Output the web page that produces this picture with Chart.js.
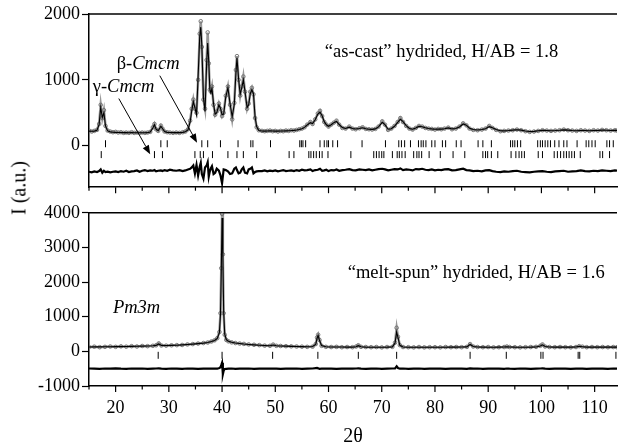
<!DOCTYPE html>
<html>
<head>
<meta charset="utf-8">
<script src="https://cdn.jsdelivr.net/npm/chart.js@4.4.1/dist/chart.umd.min.js"></script>
<style>
  html, body { margin: 0; padding: 0; background: #fff; }
  #wrap { position: relative; width: 622px; height: 446px; overflow: hidden; }
  #topChart { position: absolute; left: 0; top: 0; }
  #bottomChart { position: absolute; left: 0; top: 200px; }
  #yTitle {
    position: absolute; left: 19px; top: 188px;
    transform: translate(-50%, -50%) rotate(-90deg);
    font: 20px "Liberation Serif", "Times New Roman", serif;
    white-space: nowrap; color: #000;
  }
</style>
</head>
<body>
<div id="wrap">
  <canvas id="topChart" width="622" height="200"></canvas>
  <canvas id="bottomChart" width="622" height="246"></canvas>
  <div id="yTitle">I (a.u.)</div>
</div>
<script>
// ---- top panel: "as-cast" hydrided (2 Cmcm phases) ----
const twoThetaTop = [
  15, 15.5, 16, 16.5, 16.9, 17.2, 17.5, 17.8, 18.1, 18.5, 19, 19.5, 20, 20.5, 21, 21.5, 22, 22.5, 23, 23.5,
  24, 24.5, 25, 25.5, 26, 26.5, 27, 27.3, 27.6, 28, 28.5, 28.8, 29.2, 29.7, 30.2, 30.8, 31.4, 32, 32.6, 33.1,
  33.6, 34, 34.3, 34.6, 34.9, 35.2, 35.5, 35.8, 36, 36.2, 36.5, 36.8, 37.1, 37.3, 37.5, 37.7, 37.9, 38.1, 38.4, 38.7,
  39, 39.4, 39.7, 40, 40.3, 40.7, 41.1, 41.5, 41.9, 42.3, 42.6, 42.8, 43.1, 43.4, 43.7, 44, 44.3, 44.7, 45, 45.3,
  45.6, 45.9, 46.2, 46.5, 46.9,
  47.5, 48, 48.5, 49, 49.5, 50, 50.5, 51, 51.5, 52, 52.5, 53, 53.5, 54, 54.5, 55, 55.5, 56, 56.6, 57,
  57.5, 58, 58.4, 58.8, 59.2, 59.6, 60, 60.5, 61, 61.5, 62, 62.6, 63.2, 63.9, 64.5, 65.1, 65.8, 66.4, 67, 67.6,
  68.2, 68.8, 69.4,
  70.1, 70.6, 71.2, 71.8, 72.4, 73, 73.5, 74, 74.6, 75.2, 75.8, 76.4, 77, 77.6, 78.2, 78.8, 79.4, 80, 80.6, 81.2,
  81.8, 82.5, 83.2, 83.9, 84.6, 85.3, 85.9, 86.5, 87.2, 88, 88.8, 89.5, 90.2, 90.8, 91.5, 92.3, 93, 93.8, 94.6, 95.4,
  96.2, 97, 97.8, 98.6, 99.4, 100.2, 101, 101.8, 102.6, 103.4, 104.2, 105, 105.8, 106.6, 107.4, 108.2, 109, 109.8, 110.6, 111.4,
  112.2, 113, 113.8, 114.2
];
const obsTop = [
  230, 215, 225, 240, 330, 620, 420, 540, 300, 230, 215, 205, 210, 200, 205, 195, 200, 195, 205, 195,
  200, 195, 200, 195, 200, 210, 280, 330, 250, 225, 305, 260, 215, 205, 200, 195, 200, 195, 205, 215,
  250, 380, 560, 700, 560, 500, 1000, 1700, 1890, 1500, 700, 560, 1300, 1720, 1250, 850, 820, 900, 620, 470,
  520, 640, 560, 450, 500, 760, 900, 620, 400, 650, 1150, 1360, 1000, 760, 900, 1050, 820, 560, 640, 820,
  880, 780, 420, 280, 235,
  225, 220, 225, 230, 220, 225, 215, 225, 220, 230, 225, 235, 230, 240, 250, 260, 280, 320, 360, 330,
  400, 490, 530, 450, 360, 320, 290, 320, 350, 380, 320, 270, 260, 290, 260, 250, 265, 280, 255, 250,
  245, 255, 290,
  370, 320, 240, 260, 300, 360, 420, 360, 300, 260, 245, 270, 300, 290, 270, 260, 255, 245, 255, 250,
  260, 275, 250, 260, 290, 340, 310, 260, 240, 235, 245, 260, 300, 270, 240, 220, 225, 230, 235, 245,
  235, 220, 210, 215, 225, 235, 230, 225, 230, 235, 245, 235, 230, 225, 235, 230, 225, 235, 230, 240,
  235, 230, 235, 230
];
const calcTop = [
  222, 220, 222, 235, 320, 580, 430, 500, 300, 225, 210, 205, 202, 200, 200, 198, 198, 197, 198, 197,
  197, 197, 197, 197, 198, 208, 270, 320, 250, 228, 295, 262, 215, 203, 200, 198, 198, 198, 202, 212,
  240, 360, 530, 670, 580, 470, 1050, 1650, 1800, 1520, 730, 520, 1250, 1560, 1280, 860, 800, 870, 640, 480,
  500, 620, 570, 470, 480, 740, 880, 640, 440, 630, 1100, 1330, 1020, 780, 880, 1000, 830, 580, 620, 790,
  850, 790, 440, 290, 232,
  224, 222, 223, 225, 224, 222, 222, 223, 224, 226, 228, 230, 233, 238, 247, 258, 278, 315, 350, 335,
  395, 480, 510, 455, 365, 318, 295, 318, 350, 370, 322, 275, 262, 282, 262, 254, 262, 272, 258, 250,
  248, 256, 285,
  355, 320, 250, 258, 295, 355, 400, 365, 305, 262, 250, 268, 295, 288, 272, 262, 255, 250, 252, 252,
  258, 270, 255, 262, 285, 330, 312, 265, 245, 238, 245, 258, 290, 272, 245, 228, 226, 230, 236, 242,
  236, 224, 215, 218, 226, 233, 231, 228, 230, 234, 240, 236, 231, 228, 232, 231, 228, 232, 231, 236,
  234, 232, 233, 231
];
const diffTop = [
  -395, -405, -390, -400, -385, -360, -410, -380, -400, -395, -405, -395, -390, -400, -385, -395, -380, -400, -390, -385,
  -375, -395, -380, -370, -385, -375, -380, -370, -390, -380, -375, -385, -370, -380, -365, -375, -380, -370, -385, -375,
  -360, -350, -330, -300, -420, -290, -450, -320, -260, -430, -500, -330, -300, -250, -470, -390, -340, -310, -430, -410,
  -350, -380, -450, -570, -360, -370, -390, -430, -420, -350, -330, -370, -420, -410, -360, -330, -410, -420, -360, -350,
  -330, -420, -400, -390, -385,
  -385, -375, -390, -380, -385, -375, -390, -380, -370, -385, -380, -375, -385, -370, -380, -365, -375, -370, -360, -385,
  -370, -365, -350, -380, -375, -365, -385, -370, -375, -360, -380, -370, -365, -355, -370, -375, -360, -365, -370, -360,
  -375, -365, -355,
  -350, -360, -375, -365, -355, -360, -345, -370, -360, -365, -375, -355, -360, -350, -365, -370, -360, -375, -365, -370,
  -360, -355, -375, -370, -360, -350, -370, -375, -385, -380, -390, -375, -370, -385, -395, -400, -390, -395, -385, -380,
  -395, -400, -405, -395, -390, -385, -395, -400, -390, -385, -380, -395, -390, -385, -375, -385, -390, -380, -385, -375,
  -380, -385, -375, -380
];
// Bragg reflection positions (2θ)
const betaCmcm = [
  18.1, 28.5, 29.7, 36.2, 37.3, 39.7, 43.0, 45.4, 45.8, 49.1, 54.6, 54.9, 55.2, 55.7, 58.4, 59.2, 59.7, 60.0, 60.8, 61.7,
  66.3, 70.7, 73.2, 73.7, 74.3, 75.4, 76.9, 77.4, 77.8, 78.3, 79.4, 80.0, 81.4, 82.0, 84.0, 84.9, 88.1, 89.0, 90.6,
  94.2, 94.6, 95.0, 95.5, 96.1, 99.3, 99.8, 100.2, 100.7, 101.2, 101.7, 102.5, 103.3, 104.2, 104.8, 106.7,
  108.4, 108.9, 109.5, 110.1, 112.3, 112.8, 113.5
];
const gammaCmcm = [
  17.3, 27.3, 28.8, 34.9, 35.9, 36.5, 38.2, 41.1, 42.8, 44.0, 46.5, 52.6, 53.5, 56.3, 56.7, 57.2, 57.7, 58.3, 58.8, 59.9,
  64.2, 68.5, 69.0, 69.5, 70.0, 70.4, 72.0, 72.9, 73.3, 73.8, 74.4, 76.0, 76.6, 77.0, 77.5, 78.9, 81.0, 83.4, 85.6,
  89.0, 89.5, 89.9, 90.6, 91.8, 94.3, 95.2, 95.8, 96.3, 96.8, 99.4, 100.2, 102.4, 103.0, 103.6, 104.2, 104.7, 105.2,
  105.7, 106.2, 107.3, 111.0, 111.5, 112.8
];

// ---- bottom panel: "melt-spun" hydrided (Pm3m) ----
const twoThetaBottom = [
  15, 16, 17, 18, 19, 20, 21, 22, 23, 24,
  25, 26, 27, 27.6, 28.1, 28.6, 29.5, 30.5, 31.5, 32.5,
  33.5, 34.5, 35.5, 36.5, 37.3, 38, 38.6, 39.1, 39.5, 39.7,
  39.85, 40, 40.15, 40.3, 40.5, 40.8, 41.2, 41.8, 42.5, 43.3,
  44.1, 45, 46, 47, 48, 49, 49.6, 50.2, 51, 52,
  53, 54, 55, 56, 57, 57.6, 57.85, 58.05, 58.3, 58.7,
  59.5, 60.5, 61.5, 62.5, 63.5, 64.5, 65.2, 65.6, 66.1, 67,
  68, 69, 70, 71, 72, 72.5, 72.8, 73.05, 73.4, 74,
  75, 76, 77, 78, 79, 80, 81, 82, 83, 84,
  85, 86, 86.6, 87.2, 88, 89, 90, 91, 92, 93,
  93.5, 94, 95, 96, 97, 98, 99, 99.8, 100.2, 100.7,
  101.5, 102.5, 103.5, 104.5, 105.5, 106.5, 107.1, 107.7, 108.5, 109.5,
  110.5, 111.5, 112.5, 113.5, 114.2
];
const obsBottom = [
  125, 135, 120, 130, 140, 130, 145, 135, 150, 140,
  155, 150, 160, 175, 230, 170, 165, 175, 180, 185,
  200, 210, 225, 240, 255, 285, 320, 380, 560, 1100,
  2400, 3970, 2800, 1100, 480, 330, 290, 260, 240, 225,
  215, 200, 190, 180, 165, 160, 195, 160, 155, 150,
  145, 140, 135, 130, 135, 210, 400, 480, 330, 160,
  130, 125, 130, 120, 125, 120, 140, 175, 130, 125,
  120, 125, 115, 125, 130, 250, 680, 420, 180, 125,
  120, 115, 125, 115, 120, 120, 115, 125, 120, 125,
  120, 130, 210, 140, 125, 120, 125, 115, 120, 125,
  140, 125, 120, 115, 120, 125, 130, 160, 200, 140,
  125, 120, 125, 120, 115, 125, 150, 135, 120, 125,
  120, 125, 120, 125, 120
];
const calcBottom = [
  128, 130, 130, 132, 134, 136, 138, 140, 143, 146,
  150, 154, 160, 172, 215, 172, 168, 172, 178, 186,
  196, 208, 222, 238, 256, 282, 315, 375, 540, 1050,
  2300, 3850, 2750, 1150, 500, 340, 290, 262, 242, 226,
  212, 200, 188, 178, 170, 164, 185, 160, 155, 150,
  145, 140, 136, 133, 138, 200, 380, 460, 320, 165,
  132, 128, 126, 124, 123, 122, 135, 165, 132, 122,
  120, 120, 120, 121, 128, 240, 560, 400, 175, 125,
  120, 119, 119, 119, 120, 120, 120, 120, 121, 122,
  124, 130, 200, 140, 124, 121, 120, 120, 121, 124,
  135, 126, 121, 120, 120, 122, 128, 155, 190, 140,
  124, 121, 121, 121, 122, 125, 145, 135, 122, 121,
  121, 121, 121, 122, 122
];
const diffBottom = [
  -495, -500, -505, -495, -500, -490, -500, -505, -495, -500,
  -495, -505, -500, -495, -490, -500, -505, -495, -500, -505,
  -495, -500, -505, -500, -495, -500, -495, -500, -480, -460,
  -400, -330, -660, -560, -510, -505, -500, -495, -505, -500,
  -500, -495, -505, -500, -495, -500, -495, -500, -505, -500,
  -500, -495, -505, -500, -495, -485, -480, -490, -505, -500,
  -495, -500, -505, -500, -495, -500, -495, -490, -500, -505,
  -500, -495, -505, -500, -495, -490, -430, -480, -500, -495,
  -505, -500, -495, -505, -500, -495, -500, -505, -500, -495,
  -500, -505, -490, -500, -495, -505, -500, -495, -500, -505,
  -495, -500, -505, -495, -500, -505, -500, -495, -490, -500,
  -505, -500, -495, -500, -505, -500, -495, -500, -505, -500,
  -495, -500, -505, -495, -500
];
const pm3m = [28.0, 40.0, 49.5, 58.0, 65.6, 72.8, 86.6, 93.4, 99.9, 100.3, 106.9, 107.2, 114.0];

const xTicks = [20, 30, 40, 50, 60, 70, 80, 90, 100, 110];
const yTicksTop = [0, 1000, 2000];
const yTicksBottom = [-1000, 0, 1000, 2000, 3000, 4000];

const serif = '"Liberation Serif", "Times New Roman", Times, serif';

function pts(xs, ys) {
  return xs.map((x, i) => ({ x: x, y: ys[i] }));
}
function row(xs, level) {
  return xs.map(x => ({ x: x, y: level }));
}

function obsSet(data) {
  return {
    data: data, showLine: true, order: 2,
    borderColor: 'rgba(125,125,125,0.8)', borderWidth: 2.5,
    pointRadius: 1.8, pointBorderWidth: 0.9,
    pointBorderColor: '#6e6e6e', pointBackgroundColor: 'rgba(255,255,255,0)'
  };
}
function calcSet(data) {
  return { data: data, showLine: true, order: 0, borderColor: '#000', borderWidth: 1.1, pointRadius: 0 };
}
function diffSet(data) {
  return { data: data, showLine: true, order: 1, borderColor: '#000', borderWidth: 2.2, pointRadius: 0 };
}
function braggSet(data) {
  return {
    data: data, showLine: false, order: 3,
    pointStyle: 'line', rotation: 90, pointRadius: 3.5,
    borderColor: '#000', pointBorderColor: '#000', pointBorderWidth: 1
  };
}

// frame line on top + major/minor ticks under the x axis
const frame = {
  id: 'frame',
  afterDraw(chart) {
    const { ctx, chartArea, scales } = chart;
    ctx.save();
    ctx.strokeStyle = '#000';
    ctx.lineWidth = 1.5;
    ctx.beginPath();
    ctx.moveTo(chartArea.left, chartArea.top);
    ctx.lineTo(chartArea.right, chartArea.top);
    ctx.stroke();
    ctx.lineWidth = 1.2;
    for (let v = 15; v <= 114; v += 5) {
      const px = scales.x.getPixelForValue(v);
      const len = v % 10 === 0 ? 6 : 3.5;
      ctx.beginPath();
      ctx.moveTo(px, chartArea.bottom);
      ctx.lineTo(px, chartArea.bottom + len);
      ctx.stroke();
    }
    ctx.restore();
  }
};

function writeParts(ctx, parts, x, y) {
  let cx = x;
  parts.forEach(p => {
    ctx.font = (p[1] ? 'italic ' : '') + '18.5px ' + serif;
    ctx.fillText(p[0], cx, y);
    cx += ctx.measureText(p[0]).width;
  });
}

function arrow(ctx, x1, y1, x2, y2) {
  const a = Math.atan2(y2 - y1, x2 - x1);
  const head = 9, half = 3.5;
  const bx = x2 - head * Math.cos(a), by = y2 - head * Math.sin(a);
  ctx.lineWidth = 1;
  ctx.beginPath();
  ctx.moveTo(x1, y1);
  ctx.lineTo(bx, by);
  ctx.stroke();
  ctx.beginPath();
  ctx.moveTo(x2, y2);
  ctx.lineTo(bx + half * Math.sin(a), by - half * Math.cos(a));
  ctx.lineTo(bx - half * Math.sin(a), by + half * Math.cos(a));
  ctx.closePath();
  ctx.fill();
}

const topNotes = {
  id: 'topNotes',
  afterDatasetsDraw(chart) {
    const { ctx } = chart;
    const x = chart.scales.x, y = chart.scales.y;
    ctx.save();
    ctx.fillStyle = '#000';
    ctx.strokeStyle = '#000';
    ctx.textBaseline = 'middle';
    ctx.textAlign = 'left';
    writeParts(ctx, [['“as-cast” hydrided, H/AB = 1.8', false]], x.getPixelForValue(59.3), y.getPixelForValue(1418));
    writeParts(ctx, [['β-', false], ['Cmcm', true]], x.getPixelForValue(20.2), y.getPixelForValue(1239));
    writeParts(ctx, [['γ-', false], ['Cmcm', true]], x.getPixelForValue(15.7), y.getPixelForValue(896));
    arrow(ctx, x.getPixelForValue(28.3), y.getPixelForValue(1064), x.getPixelForValue(35.3), y.getPixelForValue(45));
    arrow(ctx, x.getPixelForValue(20.6), y.getPixelForValue(716), x.getPixelForValue(26.5), y.getPixelForValue(-130));
    ctx.restore();
  }
};

const bottomNotes = {
  id: 'bottomNotes',
  afterDatasetsDraw(chart) {
    const { ctx } = chart;
    const x = chart.scales.x, y = chart.scales.y;
    ctx.save();
    ctx.fillStyle = '#000';
    ctx.textBaseline = 'middle';
    ctx.textAlign = 'left';
    writeParts(ctx, [['“melt-spun” hydrided, H/AB = 1.6', false]], x.getPixelForValue(63.6), y.getPixelForValue(2257));
    writeParts(ctx, [['Pm3m', true]], x.getPixelForValue(19.5), y.getPixelForValue(1257));
    ctx.restore();
  }
};

const tickFont = { family: serif, size: 18 };

function yScale(min, max, ticks) {
  return {
    type: 'linear', min: min, max: max,
    afterBuildTicks: s => { s.ticks = ticks.map(v => ({ value: v })); },
    ticks: { font: tickFont, color: '#000', padding: 2, callback: v => String(v) },
    grid: { drawOnChartArea: false, drawTicks: true, tickLength: 7, color: '#000', tickWidth: 1.2 },
    border: { display: true, color: '#000', width: 1.5 },
    afterFit: s => { s.width = 89; }
  };
}

new Chart(document.getElementById('topChart'), {
  type: 'scatter',
  data: {
    datasets: [
      calcSet(pts(twoThetaTop, calcTop)),
      obsSet(pts(twoThetaTop, obsTop)),
      diffSet(pts(twoThetaTop, diffTop)),
      braggSet(row(betaCmcm, 30)),
      braggSet(row(gammaCmcm, -135))
    ]
  },
  options: {
    responsive: false,
    animation: false,
    layout: { padding: { left: 0, right: 0, top: 14, bottom: 0 } },
    plugins: { legend: { display: false }, tooltip: { enabled: false } },
    scales: {
      x: {
        type: 'linear', min: 15, max: 114.2,
        ticks: { display: false },
        grid: { display: false, drawTicks: false },
        border: { display: true, color: '#000', width: 1.5 },
        afterFit: s => { s.height = 10; }
      },
      y: yScale(-630, 2000, yTicksTop)
    }
  },
  plugins: [frame, topNotes]
});

new Chart(document.getElementById('bottomChart'), {
  type: 'scatter',
  data: {
    datasets: [
      calcSet(pts(twoThetaBottom, calcBottom)),
      obsSet(pts(twoThetaBottom, obsBottom)),
      diffSet(pts(twoThetaBottom, diffBottom)),
      braggSet(row(pm3m, -114))
    ]
  },
  options: {
    responsive: false,
    animation: false,
    layout: { padding: { left: 0, right: 0, top: 11, bottom: 0 } },
    plugins: { legend: { display: false }, tooltip: { enabled: false } },
    scales: {
      x: {
        type: 'linear', min: 15, max: 114.2,
        afterBuildTicks: s => { s.ticks = xTicks.map(v => ({ value: v })); },
        ticks: { font: tickFont, color: '#000', padding: 11, maxRotation: 0, autoSkip: false, callback: v => String(v) },
        grid: { display: false, drawTicks: false },
        border: { display: true, color: '#000', width: 1.5 },
        title: { display: true, text: '2θ', color: '#000', font: { family: serif, size: 20 }, padding: { top: 0, bottom: -3 } },
        afterFit: s => { s.height = 60; }
      },
      y: yScale(-1000, 4000, yTicksBottom)
    }
  },
  plugins: [frame, bottomNotes]
});
</script>
</body>
</html>
